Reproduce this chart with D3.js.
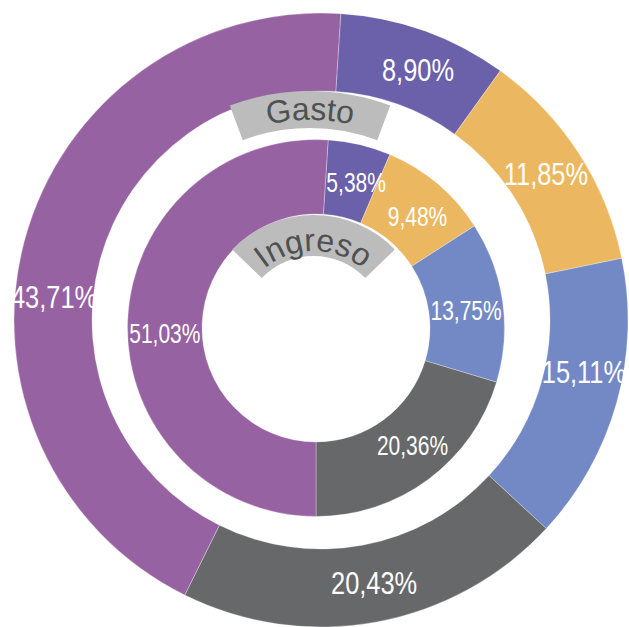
<!DOCTYPE html>
<html>
<head>
<meta charset="utf-8">
<script src="https://cdn.jsdelivr.net/npm/d3@7"></script>
<style>
  html, body { margin: 0; padding: 0; background: #fff; }
  .pct { fill: #fff; font-family: "Liberation Sans", Arial, sans-serif; }
  .titulo { fill: #4f5050; font-family: "Liberation Sans", Arial, sans-serif; }
</style>
</head>
<body>
<div id="graf"></div>
<script>
// porcentajes por categoria (mismo orden en los dos anillos)
const gasto = [8.90, 11.85, 15.11, 20.43, 43.71]
const ingreso = [5.38, 9.48, 13.75, 20.36, 51.03]
const colores = ["#6b60aa", "#ebb760", "#7389c5", "#67686a", "#9762a2"]
const titulos = ["Gasto", "Ingreso"]

const anchoTotal = 629
const altoTotal = 627
const giro = (3.7 * Math.PI) / 180

const locale = d3.formatLocale({ decimal: ",", thousands: ".", grouping: [3], currency: ["", ""] })
const fmt = (v) => locale.format(".2f")(v) + "%"

const svg = d3
  .select("#graf")
  .append("svg")
  .attr("width", anchoTotal)
  .attr("height", altoTotal)

const pie = d3
  .pie()
  .sort(null)
  .startAngle(giro)
  .endAngle(giro + 2 * Math.PI)

// "ajuste" gira un poco la posicion de cada etiqueta (grados)
const anillos = [
  { datos: gasto, cx: 321, cy: 320, r0: 229, r1: 307, fs: 31, sx: 0.82, ajuste: [1.5, 0, -4.4, -1, -10] },
  { datos: ingreso, cx: 316, cy: 328, r0: 114, r1: 188.5, fs: 28, sx: 0.75, ajuste: [2, 2, 1, -3, -3.7] },
]

anillos.forEach((a) => {
  const g = svg.append("g").attr("transform", `translate(${a.cx}, ${a.cy})`)
  const arc = d3.arc().innerRadius(a.r0).outerRadius(a.r1)
  const arcos = pie(a.datos)

  g.selectAll("path")
    .data(arcos)
    .enter()
    .append("path")
    .attr("d", arc)
    .attr("fill", (d, i) => colores[i])
    .attr("stroke", "#fff")
    .attr("stroke-width", 0.3)

  g.selectAll("text")
    .data(arcos)
    .enter()
    .append("text")
    .attr("class", "pct")
    .attr("transform", (d, i) => {
      const s = (a.ajuste[i] * Math.PI) / 180
      const c = arc.centroid({ startAngle: d.startAngle + s, endAngle: d.endAngle + s })
      return `translate(${c[0]}, ${c[1]}) scale(${a.sx}, 1)`
    })
    .attr("text-anchor", "middle")
    .attr("dy", "0.36em")
    .style("font-size", a.fs + "px")
    .text((d) => fmt(d.data))
})

// bandas grises con el nombre de cada anillo
const bandas = [
  { cx: 310, cy: 320, r0: 192, r1: 229, ang: 20.5, rt: 200, fs: 32 },
  { cx: 313.5, cy: 328, r0: 72, r1: 113, ang: 46, rt: 77, fs: 32 },
]

bandas.forEach((b, i) => {
  const g = svg.append("g").attr("transform", `translate(${b.cx}, ${b.cy})`)
  const a = (b.ang * Math.PI) / 180
  g.append("path")
    .attr("d", d3.arc().innerRadius(b.r0).outerRadius(b.r1).startAngle(-a).endAngle(a)())
    .attr("fill", "#bbbcbb")

  const p = d3.path()
  p.moveTo(-b.rt, 0)
  p.arc(0, 0, b.rt, Math.PI, 2 * Math.PI)
  g.append("path")
    .attr("id", "curva" + i)
    .attr("d", p.toString())
    .attr("fill", "none")

  g.append("text")
    .attr("class", "titulo")
    .style("font-size", b.fs + "px")
    .append("textPath")
    .attr("href", "#curva" + i)
    .attr("startOffset", "50%")
    .attr("text-anchor", "middle")
    .text(titulos[i])
})
</script>
</body>
</html>
